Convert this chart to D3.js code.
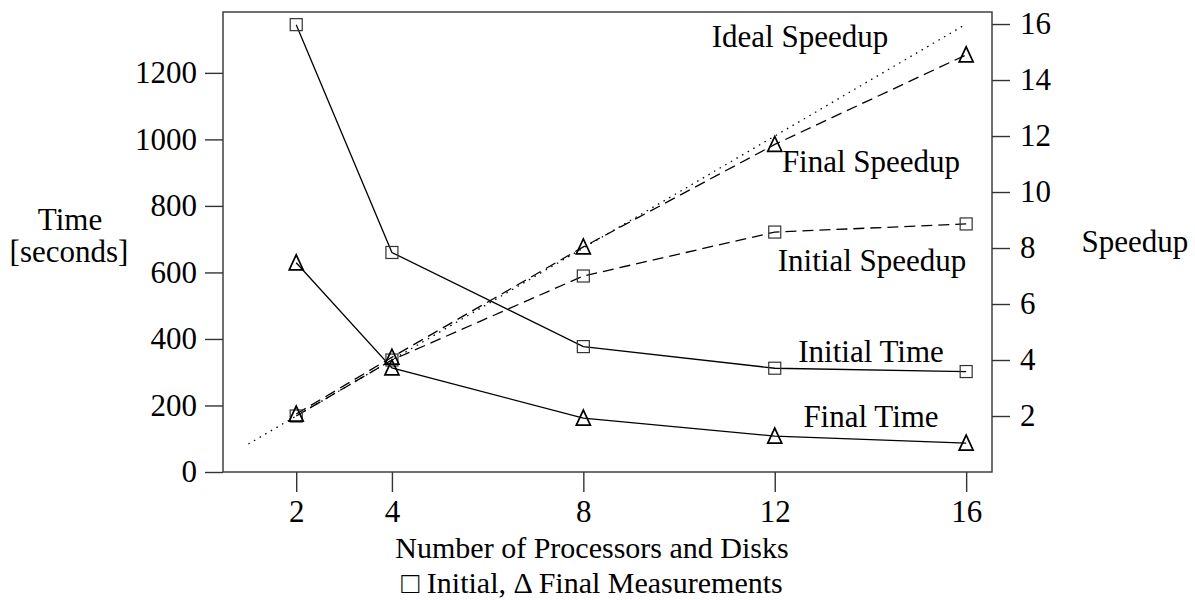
<!DOCTYPE html>
<html>
<head>
<meta charset="utf-8">
<script src="https://cdnjs.cloudflare.com/ajax/libs/d3/7.8.5/d3.min.js"></script>
<style>
  body { margin: 0; background: white; }
  text { font-family: "Liberation Serif", "Times New Roman", serif; fill: #000; }
</style>
</head>
<body>
<svg id="chart" width="1195" height="600"></svg>
<script>
// data
var procs = [2, 4, 8, 12, 16];
var initialTime = [1345, 660, 377, 312, 302];
var finalTime = [629, 313, 162, 108, 87];
var initialSpeedup = [2.0, 4.0, 7.0, 8.57, 8.86];
var finalSpeedup = [2.07, 4.1, 8.04, 11.7, 14.9];
var idealProcs = [1, 16];
var idealSpeedup = [1, 16];
var xTicks = [2, 4, 8, 12, 16];
var timeTicks = [0, 200, 400, 600, 800, 1000, 1200];
var speedTicks = [2, 4, 6, 8, 10, 12, 14, 16];

var plotLeft = 223, plotRight = 992, plotTop = 12, plotBottom = 472;
var svg = d3.select("#chart");

var x = d3.scaleLinear().domain([0.47, 16.54]).range([plotLeft, plotRight]);
var yTime = d3.scaleLinear().domain([0, 1383]).range([plotBottom, plotTop]);
var ySpeed = d3.scaleLinear().domain([0, 16.43]).range([plotBottom, plotTop]);

var fs = 31;

// frame
svg.append("rect")
    .attr("x", plotLeft).attr("y", plotTop)
    .attr("width", plotRight - plotLeft).attr("height", plotBottom - plotTop)
    .attr("fill", "none").attr("stroke", "#333").attr("stroke-width", 1.4);

// axes (ticks outside the frame)
var gx = svg.append("g").attr("transform", "translate(0," + plotBottom + ")")
    .call(d3.axisBottom(x).tickValues(xTicks).tickFormat(d3.format("d")).tickSize(20).tickPadding(8).tickSizeOuter(0));
var gl = svg.append("g").attr("transform", "translate(" + plotLeft + ",0)")
    .call(d3.axisLeft(yTime).tickValues(timeTicks).tickFormat(d3.format("d")).tickSize(18).tickPadding(8).tickSizeOuter(0));
var gr = svg.append("g").attr("transform", "translate(" + plotRight + ",0)")
    .call(d3.axisRight(ySpeed).tickValues(speedTicks).tickFormat(d3.format("d")).tickSize(18).tickPadding(10).tickSizeOuter(0));

[gx, gl, gr].forEach(function(g) {
    g.select(".domain").remove();
    g.selectAll("line").attr("stroke", "#333").attr("stroke-width", 1.4);
    g.selectAll("text")
        .style("font-family", "Liberation Serif, serif")
        .style("font-size", fs + "px")
        .attr("fill", "#000");
});

function drawLine(xs, ys, yScale, dash) {
    var pts = xs.map(function(d, i) { return [x(d), yScale(ys[i])]; });
    svg.append("path")
        .attr("d", d3.line()(pts))
        .attr("fill", "none")
        .attr("stroke", "#000")
        .attr("stroke-width", 1.3)
        .attr("stroke-dasharray", dash);
}

function squares(ys, yScale) {
    svg.append("g").selectAll("rect")
        .data(procs).enter().append("rect")
        .attr("x", function(d) { return x(d) - 6; })
        .attr("y", function(d, i) { return yScale(ys[i]) - 6; })
        .attr("width", 12).attr("height", 12)
        .attr("fill", "none").attr("stroke", "#333").attr("stroke-width", 1.2);
}

function triangles(ys, yScale) {
    svg.append("g").selectAll("path")
        .data(procs).enter().append("path")
        .attr("d", function(d, i) {
            var cx = x(d), cy = yScale(ys[i]);
            return "M" + (cx - 7) + "," + (cy + 7) + "L" + cx + "," + (cy - 8) +
                "L" + (cx + 7) + "," + (cy + 7) + "Z";
        })
        .attr("fill", "none").attr("stroke", "#000").attr("stroke-width", 1.7);
}

drawLine(idealProcs, idealSpeedup, ySpeed, "1.5,5");
drawLine(procs, initialSpeedup, ySpeed, "11,6");
drawLine(procs, finalSpeedup, ySpeed, "11,6");
drawLine(procs, initialTime, yTime, null);
drawLine(procs, finalTime, yTime, null);

squares(initialTime, yTime);
squares(initialSpeedup, ySpeed);
triangles(finalTime, yTime);
triangles(finalSpeedup, ySpeed);

// curve labels
var labels = [
    {t: "Ideal Speedup", x: 800, y: 47},
    {t: "Final Speedup", x: 871, y: 172},
    {t: "Initial Speedup", x: 872, y: 271},
    {t: "Initial Time", x: 871, y: 362},
    {t: "Final Time", x: 871, y: 427}
];
svg.append("g").selectAll("text")
    .data(labels).enter().append("text")
    .attr("x", function(d) { return d.x; })
    .attr("y", function(d) { return d.y; })
    .attr("text-anchor", "middle")
    .style("font-size", fs + "px")
    .text(function(d) { return d.t; });

// axis titles
svg.append("text").attr("x", 70).attr("y", 230).attr("text-anchor", "middle")
    .style("font-size", fs + "px").text("Time");
svg.append("text").attr("x", 69).attr("y", 262).attr("text-anchor", "middle")
    .style("font-size", fs + "px").text("[seconds]");
svg.append("text").attr("x", 1135).attr("y", 252).attr("text-anchor", "middle")
    .style("font-size", fs + "px").text("Speedup");
svg.append("text").attr("x", 592).attr("y", 558).attr("text-anchor", "middle")
    .style("font-size", "30px").text("Number of Processors and Disks");
svg.append("text").attr("x", 592).attr("y", 593).attr("text-anchor", "middle")
    .style("font-size", "30px").text("□ Initial, Δ Final Measurements");
</script>
</body>
</html>
